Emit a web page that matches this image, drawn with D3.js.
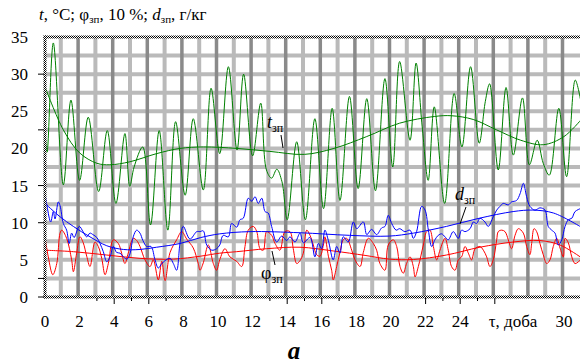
<!DOCTYPE html>
<html>
<head>
<meta charset="utf-8">
<script src="https://cdn.jsdelivr.net/npm/d3@7"></script>
<style>
  body { margin: 0; background: #fff; }
  svg { display: block; }
  text { font-family: "Liberation Serif", "Times New Roman", serif; fill: #000; }
</style>
</head>
<body>
<div id="chart"></div>
<script>
// daily values: [day, value]
const tRaw = [
  [0, 22.5], [0.12, 19.5], [0.48, 34.2], [1.06, 15.1], [1.5, 26.5], [2.0, 15.7], [2.5, 24.2],
  [3.1, 14.2], [3.6, 22.4], [4.1, 12.6], [4.62, 22.0], [4.9, 14.9], [5.15, 17.5], [5.65, 20.2],
  [6.1, 9.7], [6.6, 22.4], [7.1, 9.0], [7.55, 23.6], [8.1, 13.7], [8.57, 24.0], [9.15, 14.4],
  [9.6, 28.1], [10.1, 19.3], [10.6, 31.0], [11.1, 19.8], [11.48, 30.0], [12.0, 19.0], [12.47, 26.1],
  [12.8, 17.1], [13.1, 16.0], [13.4, 17.2], [13.7, 15.5], [14.0, 10.4], [14.55, 20.9], [15.05, 10.4],
  [15.6, 24.0], [16.1, 11.9], [16.6, 25.4], [17.05, 13.0], [17.6, 27.0], [18.1, 14.6], [18.6, 26.7],
  [19.1, 14.3], [19.65, 29.4], [20.1, 17.5], [20.5, 31.7], [21.1, 21.1], [21.45, 31.5], [21.8, 23.0],
  [22.15, 15.7], [22.5, 25.6], [23.1, 12.6], [23.65, 27.4], [24.1, 20.2], [24.6, 31.0], [25.1, 20.7],
  [25.45, 26.3], [25.7, 28.7], [26.2, 17.1], [26.65, 28.2], [27.07, 19.1], [27.6, 26.8], [28.0, 17.8],
  [28.45, 21.1], [28.8, 18.0], [29.15, 16.4], [29.7, 25.4], [30.15, 16.2], [30.65, 29.2], [31.0, 26.0]
];
const tTrend = [
  [0, 28.3], [1.06, 22.5], [2, 19.4], [3, 18.0], [3.75, 17.8], [4.9, 18.2], [6.45, 19.3], [7.8, 20.0],
  [9.15, 20.2], [11.1, 20.0], [13, 19.6], [15.0, 19.2], [16.7, 20.0], [18.6, 21.6], [20.5, 23.4],
  [22.5, 24.3], [23.5, 24.4], [24.75, 23.9], [26.1, 22.5], [27.5, 21.1], [28.8, 20.5], [30, 21.6], [31, 23.9]
];
const dRaw = [
  [0, 14.0], [0.12, 12.2], [0.33, 10.1], [0.48, 11.5], [0.58, 10.5], [0.77, 12.8], [0.87, 12.3],
  [1.06, 9.9], [1.25, 9.0], [1.4, 7.2], [1.54, 8.6], [1.68, 8.0], [1.98, 9.5], [2.2, 8.8], [2.41, 8.1],
  [2.6, 8.6], [2.77, 8.4], [3.0, 8.0], [3.18, 7.2], [3.37, 6.1], [3.57, 4.75], [3.76, 5.4], [3.95, 6.8],
  [4.14, 6.0], [4.34, 5.9], [4.53, 5.4], [4.74, 5.1], [4.91, 5.8], [5.1, 8.1], [5.3, 9.0], [5.49, 8.6],
  [5.66, 7.6], [5.88, 6.8], [6.13, 6.8], [6.36, 5.0], [6.55, 3.9], [6.75, 4.5], [6.94, 4.9], [7.23, 5.2],
  [7.42, 4.5], [7.61, 3.6], [7.8, 7.2], [7.99, 9.5], [8.38, 7.8], [8.77, 8.8], [8.96, 8.8], [9.15, 8.9],
  [9.35, 7.0], [9.64, 6.3], [9.92, 6.5], [10.1, 7.0], [10.3, 8.3], [10.6, 8.1], [10.79, 9.9], [11.08, 9.4],
  [11.27, 10.4], [11.46, 10.6], [11.75, 13.3], [11.95, 12.9], [12.14, 13.5], [12.33, 12.6], [12.53, 13.3],
  [12.72, 11.5], [12.9, 11.3], [13.1, 9.5], [13.39, 7.4], [13.68, 8.2], [13.97, 7.6], [14.16, 8.1],
  [14.45, 7.4], [14.74, 8.6], [14.93, 7.3], [15.32, 8.0], [15.6, 5.4], [15.8, 7.2], [15.99, 6.5],
  [16.18, 9.0], [16.38, 7.6], [16.66, 5.0], [16.86, 6.8], [17.05, 5.9], [17.24, 8.1], [17.53, 7.4],
  [17.82, 10.1], [18.02, 9.2], [18.4, 10.1], [18.6, 8.4], [18.88, 9.1], [19.17, 8.4], [19.46, 9.3],
  [19.65, 9.5], [19.84, 11.0], [20.04, 9.9], [20.3, 9.0], [20.5, 9.2], [20.8, 8.8], [21.1, 9.0],
  [21.29, 7.9], [21.48, 8.8], [21.77, 12.2], [21.97, 11.7], [22.16, 9.0], [22.35, 6.8], [22.54, 7.7],
  [22.73, 8.3], [22.93, 8.5], [23.12, 8.1], [23.31, 7.7], [23.6, 8.8], [23.89, 7.9], [24.08, 9.0],
  [24.28, 8.8], [24.57, 9.2], [24.76, 10.1], [24.95, 9.9], [25.14, 10.6], [25.43, 10.1], [25.62, 9.5],
  [25.91, 10.8], [26.11, 11.7], [26.3, 12.2], [26.49, 12.6], [26.78, 12.4], [26.97, 12.8], [27.26, 13.0],
  [27.46, 13.9], [27.65, 15.3], [27.84, 13.5], [28.03, 12.2], [28.32, 11.7], [28.61, 12.0], [28.9, 11.7],
  [29.09, 9.5], [29.29, 9.0], [29.48, 8.6], [29.67, 7.0], [29.87, 7.7], [30.06, 9.5], [30.25, 10.4],
  [30.45, 10.6], [30.64, 11.5], [30.95, 11.9]
];
const dTrend = [
  [0, 12.6], [0.87, 10.8], [1.64, 9.5], [2.6, 8.1], [3.57, 6.9], [4.53, 6.4], [5.49, 6.4], [6.45, 6.7],
  [7.8, 7.2], [9, 8.0], [10.1, 8.5], [11.85, 8.8], [14.74, 8.65], [17.6, 8.3], [19.9, 8.2], [21.3, 8.6],
  [23.2, 9.5], [25.1, 10.6], [27.06, 11.5], [28.2, 11.7], [29.4, 11.3], [31, 9.4]
];
const phiRaw = [
  [0, 8.1], [0.19, 5.4], [0.45, 3.0], [0.68, 4.5], [0.87, 8.6], [0.97, 9.0], [1.25, 7.9], [1.54, 5.0],
  [1.64, 3.4], [1.83, 5.9], [2.02, 8.1], [2.21, 7.3], [2.41, 5.5], [2.6, 4.1], [2.89, 7.4], [3.08, 6.8],
  [3.28, 5.2], [3.47, 3.0], [3.66, 4.5], [3.95, 7.7], [4.24, 7.2], [4.43, 5.9], [4.62, 4.5], [4.81, 5.9],
  [5.1, 7.9], [5.3, 7.6], [5.49, 6.8], [5.78, 5.0], [6.07, 4.1], [6.26, 5.0], [6.55, 2.3], [6.75, 4.8],
  [6.94, 2.2], [7.23, 6.0], [7.61, 7.7], [7.9, 8.8], [8.19, 7.8], [8.57, 6.6], [8.86, 4.5], [8.96, 3.6],
  [9.15, 4.6], [9.44, 7.0], [9.73, 4.5], [9.92, 3.6], [10.1, 5.0], [10.4, 6.5], [10.69, 5.4], [11.08, 4.8],
  [11.37, 4.1], [11.56, 6.8], [11.75, 9.0], [12.04, 9.5], [12.24, 8.8], [12.43, 6.5], [12.62, 6.3],
  [12.81, 8.8], [13.1, 8.3], [13.3, 7.2], [13.58, 6.3], [13.87, 8.8], [14.16, 8.8], [14.35, 6.5],
  [14.55, 4.5], [14.74, 4.9], [14.93, 5.9], [15.13, 9.0], [15.32, 8.3], [15.51, 7.0], [15.7, 5.7],
  [15.9, 5.5], [16.09, 7.0], [16.18, 8.1], [16.38, 5.5], [16.57, 3.6], [16.66, 2.3], [16.86, 4.1],
  [17.05, 6.0], [17.24, 7.7], [17.44, 7.9], [17.73, 6.3], [17.92, 5.0], [18.21, 4.1], [18.4, 6.0],
  [18.69, 7.9], [18.98, 7.2], [19.17, 6.3], [19.36, 4.5], [19.65, 3.6], [19.84, 7.0], [20.13, 7.7],
  [20.33, 6.8], [20.52, 4.1], [20.71, 3.2], [20.9, 4.5], [21.1, 5.4], [21.29, 4.1], [21.39, 2.7],
  [21.58, 4.1], [21.87, 7.0], [22.06, 8.8], [22.25, 9.0], [22.45, 6.8], [22.64, 5.0], [22.83, 6.3],
  [23.12, 7.9], [23.31, 6.3], [23.5, 4.1], [23.7, 3.6], [23.89, 5.0], [24.08, 5.4], [24.28, 6.8],
  [24.47, 5.9], [24.66, 5.0], [24.86, 6.5], [25.14, 6.8], [25.34, 6.3], [25.53, 5.4], [25.72, 4.1],
  [25.91, 5.0], [26.11, 7.7], [26.2, 8.8], [26.4, 9.0], [26.59, 8.8], [26.78, 7.7], [26.97, 6.5],
  [27.17, 8.3], [27.36, 9.2], [27.65, 8.6], [27.84, 6.8], [28.03, 5.7], [28.13, 7.2], [28.27, 9.2],
  [28.42, 8.8], [28.61, 7.2], [28.8, 5.7], [29.0, 4.5], [29.19, 5.0], [29.38, 6.8], [29.58, 7.9],
  [29.77, 6.6], [29.96, 5.4], [30.06, 7.9], [30.25, 7.3], [30.45, 5.4], [30.64, 4.5], [30.95, 5.0]
];
const phiTrend = [
  [0, 6.3], [1.64, 6.1], [3.57, 5.65], [5.49, 5.2], [7.42, 5.1], [9, 5.5], [10.1, 5.9], [11.08, 6.1],
  [12.81, 6.5], [14.74, 6.7], [16.66, 6.2], [18.5, 5.6], [19.9, 5.1], [21.3, 5.05], [23.2, 5.65],
  [25.14, 6.7], [27.06, 7.4], [28.6, 7.6], [29.77, 7.0], [31, 5.3]
];

const yTickLabels = [0, 5, 10, 15, 20, 25, 30, 35];
const xTickLabels = [0, 2, 4, 6, 8, 10, 12, 14, 16, 18, 20, 22, 24, 30];
const yMarks = [0, 2.5, 10, 15, 22.5, 30];
const xMarks = [3, 4, 5, 6, 7, 13, 14, 15, 16, 17, 22, 23, 24, 25, 26];

const W = 580, H = 363;
const x = d3.scaleLinear().domain([0, 31]).range([45, 581.3]);
const y = d3.scaleLinear().domain([0, 35]).range([297, 37]);

const svg = d3.select('#chart').append('svg').attr('width', W).attr('height', H);

// checker pattern for the frame
const defs = svg.append('defs');
const pat = defs.append('pattern').attr('id', 'chk')
  .attr('width', 2).attr('height', 2).attr('patternUnits', 'userSpaceOnUse');
pat.append('rect').attr('width', 2).attr('height', 2).attr('fill', '#fff');
pat.append('rect').attr('width', 1).attr('height', 1).attr('fill', '#000');
pat.append('rect').attr('x', 1).attr('y', 1).attr('width', 1).attr('height', 1).attr('fill', '#000');
defs.append('clipPath').attr('id', 'plot')
  .append('rect').attr('x', 45).attr('y', 37).attr('width', 535).attr('height', 260);

const grid = svg.append('g');
// horizontal grid every 2.5
grid.selectAll('.hl').data(d3.range(2.5, 35, 2.5)).enter().append('line')
  .attr('x1', 45).attr('x2', 580).attr('y1', d => y(d)).attr('y2', d => y(d))
  .attr('stroke', '#bababa').attr('stroke-width', 4);
// light verticals on odd days
grid.selectAll('.vl').data(d3.range(1, 31, 2)).enter().append('line')
  .attr('x1', d => x(d) - 1.5).attr('x2', d => x(d) - 1.5).attr('y1', 37).attr('y2', 297)
  .attr('stroke', '#bababa').attr('stroke-width', 4);
// dark verticals on even days
grid.selectAll('.vd').data(d3.range(2, 31, 2)).enter().append('line')
  .attr('x1', d => x(d) - 1.5).attr('x2', d => x(d) - 1.5).attr('y1', 37).attr('y2', 297)
  .attr('stroke', '#8a8a8a').attr('stroke-width', 3.5);

// series
const line = d3.line().x(d => x(d[0])).y(d => y(d[1])).curve(d3.curveCatmullRom.alpha(0.5));
const plot = svg.append('g').attr('clip-path', 'url(#plot)');
const series = [
  [tRaw, '#008000'], [tTrend, '#008000'],
  [phiRaw, '#ff0000'], [phiTrend, '#ff0000'],
  [dRaw, '#0000ff'], [dTrend, '#0000ff']
];
series.forEach(([data, col]) => {
  plot.append('path').datum(data).attr('d', line)
    .attr('fill', 'none').attr('stroke', col).attr('stroke-width', 1);
});

// frame (top, left, bottom)
svg.append('rect').attr('x', 43.5).attr('y', 35.5).attr('width', 537).attr('height', 3).attr('fill', 'url(#chk)');
svg.append('rect').attr('x', 43.5).attr('y', 35.5).attr('width', 3).attr('height', 263).attr('fill', 'url(#chk)');
svg.append('rect').attr('x', 43.5).attr('y', 295.5).attr('width', 537).attr('height', 3).attr('fill', 'url(#chk)');

// tick marks
svg.selectAll('.ym').data(yMarks).enter().append('line')
  .attr('x1', 38).attr('x2', 44).attr('y1', d => y(d)).attr('y2', d => y(d))
  .attr('stroke', '#000').attr('stroke-width', 1);
svg.selectAll('.xm').data(xMarks).enter().append('line')
  .attr('x1', d => x(d)).attr('x2', d => x(d)).attr('y1', 298)
  .attr('y2', d => d % 2 === 0 ? 304 : 301)
  .attr('stroke', '#000').attr('stroke-width', 1);

// tick labels
svg.selectAll('.yl').data(yTickLabels).enter().append('text')
  .attr('x', 28).attr('y', d => y(d) + 6).attr('text-anchor', 'end')
  .style('font-size', '17px').text(d => d);
svg.selectAll('.xl').data(xTickLabels).enter().append('text')
  .attr('x', d => x(d)).attr('y', 327).attr('text-anchor', 'middle')
  .style('font-size', '17px').text(d => d);
svg.append('text').attr('x', 513).attr('y', 327).attr('text-anchor', 'middle')
  .style('font-size', '17px').text('τ, доба');

// axis title
const title = svg.append('text').attr('x', 39).attr('y', 20).style('font-size', '17px');
title.append('tspan').style('font-style', 'italic').text('t');
title.append('tspan').text(', °C; φ');
title.append('tspan').attr('dy', 3).style('font-size', '11px').text('зп');
title.append('tspan').attr('dy', -3).text(', 10 %; ');
title.append('tspan').style('font-style', 'italic').text('d');
title.append('tspan').attr('dy', 3).style('font-size', '11px').text('зп');
title.append('tspan').attr('dy', -3).text(', г/кг');

// series labels with leader lines
function label(lx, ly, main, italic, x1, y1, x2, y2) {
  const t = svg.append('text').attr('x', lx).attr('y', ly).style('font-size', '18px');
  t.append('tspan').style('font-style', italic ? 'italic' : 'normal').text(main);
  t.append('tspan').attr('dy', 4).style('font-size', '12px').text('зп');
  svg.append('line').attr('x1', x1).attr('y1', y1).attr('x2', x2).attr('y2', y2)
    .attr('stroke', '#000').attr('stroke-width', 1);
}
label(267, 128, 't', true, 281, 135, 283, 148);
label(261, 279, 'φ', false, 275, 265, 272, 251);
label(455, 200, 'd', true, 466, 207, 460, 224);

// panel letter
svg.append('text').attr('x', 294).attr('y', 359).attr('text-anchor', 'middle')
  .style('font-size', '25px').style('font-weight', 'bold').style('font-style', 'italic').text('a');
</script>
</body>
</html>
